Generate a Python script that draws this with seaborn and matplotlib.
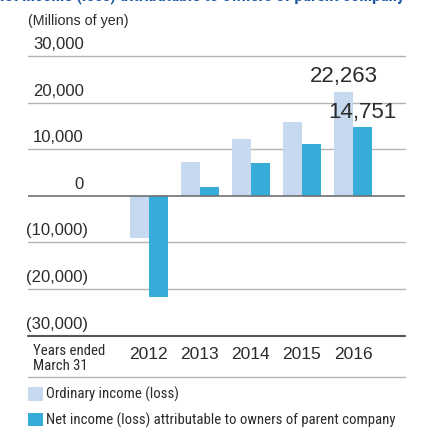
import matplotlib
matplotlib.use("Agg")
import matplotlib.pyplot as plt
from matplotlib.transforms import ScaledTranslation
from matplotlib import font_manager
from matplotlib.font_manager import FontProperties
import seaborn as sns
import pandas as pd

# ---- data ----
years = ["2012", "2013", "2014", "2015", "2016"]
ordinary_income = [-9000, 7200, 12200, 15800, 22263]
net_income = [-21700, 1900, 7000, 11100, 14751]
series_names = ["Ordinary income (loss)",
                "Net income (loss) attributable to owners of parent company"]
ytick_values = [30000, 20000, 10000, 0, -10000, -20000, -30000]
ytick_labels = ["30,000", "20,000", "10,000", "0", "(10,000)", "(20,000)", "(30,000)"]
value_labels_ordinary = ["", "", "", "", "22,263"]
value_labels_net = ["", "", "", "", "14,751"]

df = pd.DataFrame({
    "Year": years * 2,
    "Series": [series_names[0]] * len(years) + [series_names[1]] * len(years),
    "Value": ordinary_income + net_income,
})

# ---- style ----
sns.set_style("white")
REG = ["Liberation Sans", "DejaVu Sans"]
plt.rcParams["font.family"] = REG
TXT = "#2b2b2b"
LIGHT = "#c6d9ef"
DARK = "#37acd9"

# look for a condensed / narrow face
def find_narrow(bold=False):
    best = None
    for f in font_manager.fontManager.ttflist:
        nm = f.name.lower()
        st = str(f.stretch).lower()
        narrow = ("narrow" in nm or "condensed" in nm or "condensed" in st or "narrow" in st)
        if not narrow or f.style != "normal":
            continue
        w = f.weight if isinstance(f.weight, int) else (700 if "bold" in str(f.weight) else 400)
        if (w >= 600) != bold:
            continue
        rank = 0 if "liberation" in nm else (1 if "roboto" in nm else 2)
        if best is None or rank < best[0]:
            best = (rank, f.fname)
    return best[1] if best else None

nf = find_narrow(False)
nfb = find_narrow(True)

def narrow_props(size, bold=False):
    fn = nfb if bold else nf
    if fn:
        return FontProperties(fname=fn, size=size)
    return FontProperties(family=REG, size=size * 0.8, weight="bold" if bold else "normal")

W, H = 437, 429
fig = plt.figure(figsize=(W / 100, H / 100), dpi=100)
ax_left, ax_right = 28, 405
ax_top, ax_bot = 56, 335.7
ax = fig.add_axes([ax_left / W, 1 - ax_bot / H, (ax_right - ax_left) / W, (ax_bot - ax_top) / H])

sns.barplot(data=df, x="Year", y="Value", hue="Series", order=years,
            hue_order=series_names, palette=[LIGHT, DARK], width=0.75,
            gap=0, dodge=True, saturation=1, legend=True, ax=ax, zorder=3,
            linewidth=0)

ax.set_xlim(-2.37, 5.02)
ax.set_ylim(-30000, 30000)
for s in ax.spines.values():
    s.set_visible(False)

# gridlines
for v in ytick_values:
    if v == 0:
        ax.axhline(v, color="#707070", lw=1.2, zorder=4)
    elif v == -30000:
        ax.axhline(v, color="#555555", lw=1.5, zorder=4, clip_on=False)
    else:
        ax.axhline(v, color="#b4b4b4", lw=1.0, zorder=1, clip_on=False)

# y tick labels inside, above gridlines
ax.set_yticks(ytick_values)
ax.set_yticklabels(ytick_labels)
ax.tick_params(axis="y", length=0, pad=-56 * 0.72, labelsize=12, labelcolor=TXT)
for lab, v in zip(ax.get_yticklabels(), ytick_values):
    lab.set_horizontalalignment("right")
    lab.set_transform(lab.get_transform() +
                      ScaledTranslation((4 if v < 0 else 0) / 100, 13 / 100, fig.dpi_scale_trans))

# x tick labels
ax.set_xlabel("")
ax.set_ylabel("")
ax.tick_params(axis="x", length=0, pad=8, labelsize=12.5, labelcolor=TXT)

# value labels on 2016
ax.bar_label(ax.containers[0], labels=value_labels_ordinary, padding=4,
             fontsize=16, color=TXT)
ax.bar_label(ax.containers[1], labels=value_labels_net, padding=3,
             fontsize=16, color=TXT)

# line under the year row
ax.plot([0, 1], [-(377 - ax_bot) / (ax_bot - ax_top)] * 2, transform=ax.transAxes,
        color="#b4b4b4", lw=1.0, clip_on=False)

# texts
fig.text(28 / W, 1 - 25.5 / H, "(Millions of yen)", fontsize=10.3, color=TXT,
         va="baseline", ha="left", family=REG)
fig.text(33 / W, 1 - 344 / H, "Years ended\nMarch 31", color=TXT,
         va="top", ha="left", fontproperties=narrow_props(10.6), linespacing=1.1)
fig.text(405 / W, 1 - 0.5 / H,
         "Net income (loss) attributable to owners of parent company",
         color="#1f5aa6", va="baseline", ha="right",
         fontproperties=narrow_props(12.3, bold=True))

# legend
leg_prop = narrow_props(10.6)
fs_px = leg_prop.get_size_in_points() * 100 / 72
handles, labels = ax.get_legend_handles_labels()
leg = ax.legend(handles, labels, loc="upper left",
                bbox_to_anchor=(ax_left / W, 1 - 387 / H), bbox_transform=fig.transFigure,
                frameon=False, borderaxespad=0, borderpad=0,
                handlelength=15 / fs_px, handleheight=15 / fs_px,
                handletextpad=3 / fs_px, labelspacing=(25 - 15) / fs_px,
                prop=leg_prop)
for t in leg.get_texts():
    t.set_color(TXT)

fig.savefig("out.png", dpi=100)
